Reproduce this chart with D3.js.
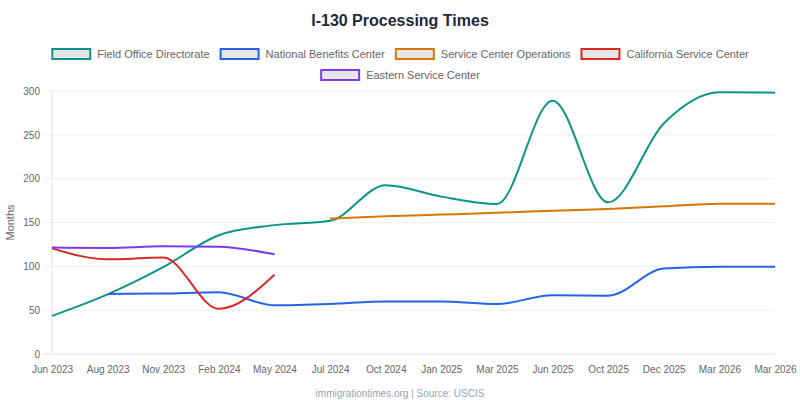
<!DOCTYPE html>
<html>
<head>
<meta charset="utf-8">
<script src="https://cdn.jsdelivr.net/npm/d3@7"></script>
<style>
  body { margin: 0; background: #fff; }
  svg { display: block; font-family: "Liberation Sans", Arial, sans-serif; }
</style>
</head>
<body>
<div id="chart"></div>
<script>
// Data (months)
const labels = ['Jun 2023', 'Aug 2023', 'Nov 2023', 'Feb 2024', 'May 2024', 'Jul 2024', 'Oct 2024',
    'Jan 2025', 'Mar 2025', 'Jun 2025', 'Oct 2025', 'Dec 2025', 'Mar 2026', 'Mar 2026'];

const fieldOffice = [43.5, 68, 99, 135.5, 147, 152, 192.5, 179.5, 171, 289, 173, 263, 298.5, 298];
const nationalBenefits = [null, 68.5, 69, 70.5, 55.5, 57, 60, 60, 57, 67, 66.5, 97.5, 99.5, 99.5];
const serviceCenterOps = [null, null, null, null, null, 154.5, 157, 159, 161, 163.5, 165.5, 168.5, 171.5, 171.5];
const californiaSC = [120.5, 108, 110, 51.5, 90.5, null, null, null, null, null, null, null, null, null];
const easternSC = [121.5, 121, 122.8, 122.3, 113.7, null, null, null, null, null, null, null, null, null];

const series = [
    { name: 'Field Office Directorate', color: '#0d9488', values: fieldOffice },
    { name: 'National Benefits Center', color: '#2563eb', values: nationalBenefits },
    { name: 'Service Center Operations', color: '#d97706', values: serviceCenterOps },
    { name: 'California Service Center', color: '#dc2626', values: californiaSC },
    { name: 'Eastern Service Center', color: '#7c3aed', values: easternSC }
];

const width = 800;
const height = 400;
const margin = { top: 91, right: 25, bottom: 46, left: 52 };

const svg = d3.select('#chart')
    .append('svg')
    .attr('width', width)
    .attr('height', height);

// Title
svg.append('text')
    .attr('x', width / 2)
    .attr('y', 26)
    .attr('text-anchor', 'middle')
    .style('font-size', '16px')
    .style('font-weight', 'bold')
    .style('fill', '#1e293b')
    .text('I-130 Processing Times');

// Scales
const x = d3.scaleLinear()
    .domain([0, labels.length - 1])
    .range([margin.left, width - margin.right]);

const y = d3.scaleLinear()
    .domain([0, 300])
    .range([height - margin.bottom, margin.top]);

// Horizontal grid (with short tick stubs left of the axis)
svg.append('g')
    .selectAll('line')
    .data(y.ticks(6))
    .enter()
    .append('line')
    .attr('x1', margin.left - 8)
    .attr('x2', width - margin.right)
    .attr('y1', d => y(d))
    .attr('y2', d => y(d))
    .attr('stroke', d => d === 0 ? '#dfe1e8' : '#eff0f4')
    .attr('stroke-width', 1);

// Left border
svg.append('line')
    .attr('x1', margin.left)
    .attr('x2', margin.left)
    .attr('y1', margin.top)
    .attr('y2', height - margin.bottom)
    .attr('stroke', '#dfe1e8');

// Y axis labels
const yAxis = svg.append('g')
    .attr('transform', `translate(${margin.left - 12},0)`)
    .call(d3.axisLeft(y).tickValues(y.ticks(6)).tickSize(0).tickPadding(0));
yAxis.select('.domain').remove();
yAxis.selectAll('text')
    .style('font-size', '10px')
    .style('fill', '#666')
    .style('font-family', '"Liberation Sans", Arial, sans-serif');

svg.append('text')
    .attr('transform', `translate(14,${(margin.top + height - margin.bottom) / 2}) rotate(-90)`)
    .attr('text-anchor', 'middle')
    .style('font-size', '11px')
    .style('fill', '#666')
    .text('Months');

// X axis labels
const xAxis = svg.append('g')
    .attr('transform', `translate(0,${height - margin.bottom + 12})`)
    .call(d3.axisBottom(x).tickValues(d3.range(labels.length)).tickFormat(i => labels[i]).tickSize(0).tickPadding(0));
xAxis.select('.domain').remove();
xAxis.selectAll('text')
    .attr('dy', '0.71em')
    .style('font-size', '10px')
    .style('fill', '#666')
    .style('font-family', '"Liberation Sans", Arial, sans-serif');

// Lines
const line = d3.line()
    .defined(d => d != null)
    .x((d, i) => x(i))
    .y(d => y(d))
    .curve(d3.curveMonotoneX);

svg.append('g')
    .selectAll('path')
    .data(series)
    .enter()
    .append('path')
    .attr('d', d => line(d.values))
    .attr('fill', 'none')
    .attr('stroke', d => d.color)
    .attr('stroke-width', 2);

// Legend, laid out in centered rows
const legend = svg.append('g');
const boxW = 40, boxH = 12, gap = 10;
const items = legend.selectAll('g')
    .data(series)
    .enter()
    .append('g');

items.append('rect')
    .attr('width', boxW - 2)
    .attr('height', boxH - 2)
    .attr('x', 1)
    .attr('y', -boxH / 2 + 1)
    .attr('fill', '#e6e6e6')
    .attr('stroke', d => d.color)
    .attr('stroke-width', 2);

items.append('text')
    .attr('x', boxW + 6)
    .attr('dy', '0.35em')
    .style('font-size', '11px')
    .style('fill', '#666')
    .text(d => d.name);

const itemWidths = [];
items.each(function () {
    itemWidths.push(boxW + 6 + this.querySelector('text').getComputedTextLength());
});

const maxRow = width - 40;
const rows = [[]];
let rowW = 0;
itemWidths.forEach((w, i) => {
    if (rowW + w > maxRow && rows[rows.length - 1].length) {
        rows.push([]);
        rowW = 0;
    }
    rows[rows.length - 1].push(i);
    rowW += w + gap;
});

rows.forEach((row, r) => {
    const total = d3.sum(row, i => itemWidths[i]) + gap * (row.length - 1);
    let cx = (width - total) / 2;
    row.forEach(i => {
        d3.select(items.nodes()[i]).attr('transform', `translate(${cx},${54 + r * 21})`);
        cx += itemWidths[i] + gap;
    });
});

// Footer
svg.append('text')
    .attr('x', width / 2)
    .attr('y', 397)
    .attr('text-anchor', 'middle')
    .style('font-size', '10px')
    .style('fill', '#94a3b8')
    .text('immigrationtimes.org | Source: USCIS');
</script>
</body>
</html>
